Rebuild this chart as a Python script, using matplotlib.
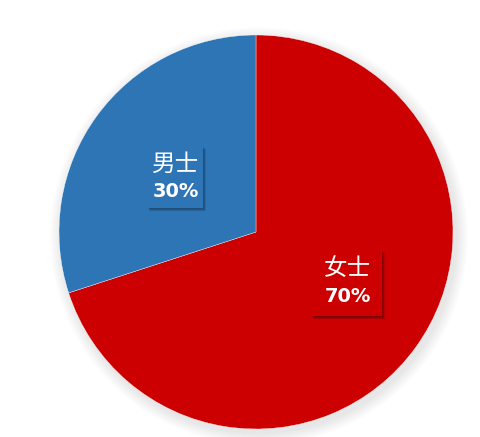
import numpy as np
import matplotlib
matplotlib.use("Agg")
import matplotlib.pyplot as plt
from matplotlib.patches import Circle, Rectangle

plt.rcParams['font.family'] = ['Noto Sans CJK SC', 'DejaVu Sans']

# --- data ---
labels = ["女士", "男士"]
shares = [70, 30]
colors = ["#CC0000", "#2E75B6"]

W, H = 481, 437
fig = plt.figure(figsize=(W / 100, H / 100), dpi=100)
ax = fig.add_axes([0, 0, 1, 1])

cx, cy, r = 256, H - 232, 197

# soft shadow around the pie
for i in range(12):
    ax.add_patch(Circle((cx + 3, cy - 4), r + 12 - i, color="black",
                        alpha=0.008, lw=0, zorder=1))

ax.pie(shares, colors=colors, startangle=90, counterclock=False,
       center=(cx, cy), radius=r, frame=True,
       wedgeprops=dict(edgecolor="white", linewidth=0.25, zorder=2))
ax.set_xlim(0, W)
ax.set_ylim(0, H)
ax.set_aspect("equal")
ax.axis("off")

# label boxes with shadow
boxes = [(311, 250, 382, 316), (147, 146, 203, 208)]
for (x0, y0, x1, y1), col, lab, val in zip(boxes, colors, labels, shares):
    for k in range(5):
        ax.add_patch(Rectangle((x0 + 0.5 + k * 0.6, H - y1 - 0.5 - k * 0.7), x1 - x0, y1 - y0,
                               color="black", alpha=0.09, lw=0, zorder=3))
    ax.add_patch(Rectangle((x0, H - y1), x1 - x0, y1 - y0, color=col, lw=0, zorder=4))
    xm = (x0 + x1) / 2 + 1
    ax.text(xm, H - (y0 + 18), lab, color="white", fontsize=17, fontweight="light",
            ha="center", va="center", zorder=5)
    ax.text(xm, H - (y0 + 46), f"{val}%", color="white", fontsize=14, fontweight="bold",
            family=["DejaVu Sans"], ha="center", va="center", zorder=5)

fig.savefig("out.png", dpi=100)
